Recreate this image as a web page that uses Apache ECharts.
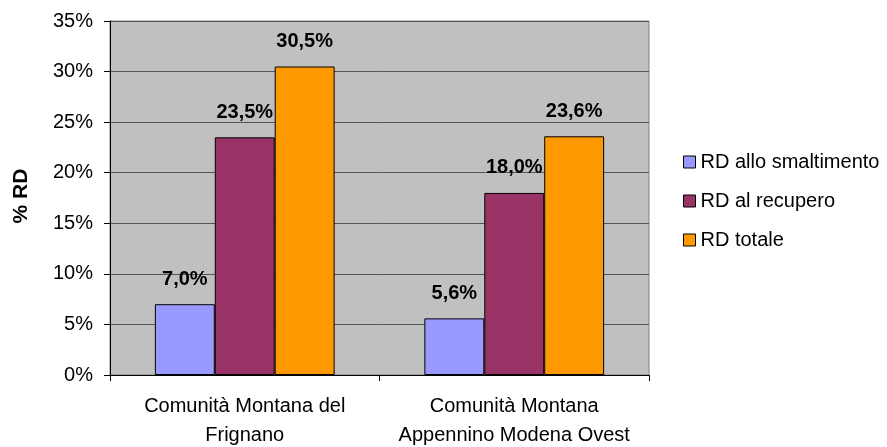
<!DOCTYPE html>
<html>
<head>
<meta charset="utf-8">
<script src="https://cdn.jsdelivr.net/npm/echarts@6/dist/echarts.min.js"></script>
<style>
  html, body { margin: 0; padding: 0; background: #fff; }
  #chart { width: 887px; height: 447px; }
</style>
</head>
<body>
<div id="chart"></div>
<script>
// Categories and values (percent of separate collection)
const categories = ['Comunità Montana del\nFrignano', 'Comunità Montana\nAppennino Modena Ovest'];
const seriesNames = ['RD allo smaltimento', 'RD al recupero', 'RD totale'];
const rdSmaltimento = [7.0, 5.6];
const rdRecupero = [23.5, 18.0];
const rdTotale = [30.5, 23.6];
const seriesColors = ['#9999FF', '#993366', '#FF9900'];

const fontFamily = '"Liberation Sans", Arial, sans-serif';
const fmtPct = v => v.toFixed(1).replace('.', ',') + '%';

const chart = echarts.init(document.getElementById('chart'), null, { renderer: 'canvas' });

const makeSeries = (name, data, color) => ({
  name: name,
  type: 'bar',
  data: data,
  barGap: '0%',
  barCategoryGap: '33.3%',
  itemStyle: { color: color, borderColor: '#000', borderWidth: 1 },
  label: {
    show: true,
    position: 'top',
    distance: 15,
    formatter: p => fmtPct(p.value),
    fontFamily: fontFamily,
    fontSize: 20,
    fontWeight: 'bold',
    color: '#000'
  },
  emphasis: { disabled: true }
});

chart.setOption({
  animation: false,
  textStyle: { fontFamily: fontFamily },
  grid: {
    left: 110, right: 238, top: 21, bottom: 72,
    containLabel: false,
    outerBoundsMode: 'none',
    show: true,
    backgroundColor: '#C0C0C0',
    borderColor: '#808080',
    borderWidth: 1
  },
  legend: {
    orient: 'vertical',
    left: 678,
    top: 147,
    itemWidth: 12,
    itemHeight: 12,
    itemGap: 19,
    icon: 'rect',
    data: seriesNames,
    itemStyle: { borderColor: '#000', borderWidth: 1 },
    textStyle: { fontFamily: fontFamily, fontSize: 20, color: '#000' }
  },
  xAxis: {
    type: 'category',
    data: categories,
    axisLine: { show: true, lineStyle: { color: '#000', width: 1 } },
    axisTick: { show: true, length: 6, lineStyle: { color: '#000' } },
    axisLabel: {
      interval: 0,
      hideOverlap: false,
      margin: 17,
      fontFamily: fontFamily,
      fontSize: 20,
      lineHeight: 29,
      color: '#000'
    },
    splitLine: { show: false }
  },
  yAxis: {
    type: 'value',
    min: 0,
    max: 35,
    interval: 5,
    name: '% RD',
    nameLocation: 'middle',
    nameGap: 78,
    nameRotate: 90,
    nameTextStyle: { fontFamily: fontFamily, fontSize: 21, fontWeight: 'bold', color: '#000', padding: [0, 0, 0, 4] },
    axisLine: { show: true, lineStyle: { color: '#000', width: 1 } },
    axisTick: { show: true, length: 6, lineStyle: { color: '#000' } },
    axisLabel: {
      margin: 17,
      formatter: v => v + '%',
      fontFamily: fontFamily,
      fontSize: 20,
      color: '#000'
    },
    splitLine: { show: true, lineStyle: { color: '#555', width: 1 } }
  },
  series: [
    makeSeries(seriesNames[0], rdSmaltimento, seriesColors[0]),
    makeSeries(seriesNames[1], rdRecupero, seriesColors[1]),
    makeSeries(seriesNames[2], rdTotale, seriesColors[2])
  ]
});
</script>
</body>
</html>
